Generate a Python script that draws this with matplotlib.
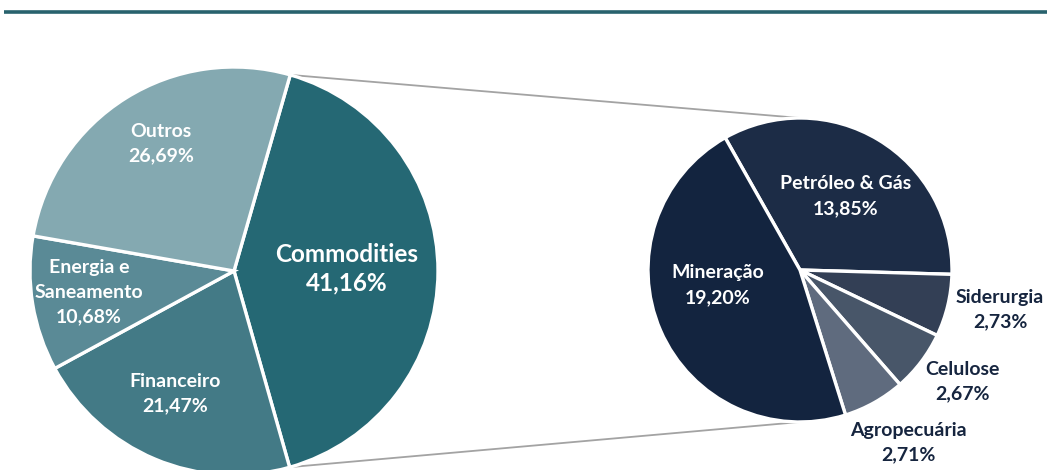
import numpy as np
import matplotlib
matplotlib.use("Agg")
from matplotlib import pyplot as plt

# main pie (clockwise from the top edge of Commodities)
setores = ["Commodities", "Financeiro", "Energia e\nSaneamento", "Outros"]
pesos = [41.16, 21.47, 10.68, 26.69]
pesos_txt = ["41,16%", "21,47%", "10,68%", "26,69%"]

# breakdown of Commodities
sub_setores = ["Petróleo & Gás", "Siderurgia", "Celulose", "Agropecuária", "Mineração"]
sub_pesos = [13.85, 2.73, 2.67, 2.71, 19.20]
sub_txt = ["13,85%", "2,73%", "2,67%", "2,71%", "19,20%"]

cores = ["#256874", "#437a86", "#5a8a96", "#84a9b1"]
sub_cores = ["#1c2c46", "#333f55", "#485669", "#5f6b7e", "#13243f"]
navy = "#16253f"

W, H = 1047, 470
fig = plt.figure(figsize=(W / 100, H / 100), dpi=100)
ax = fig.add_axes([0, 0, 1, 1])

def py(y):  # pixel row -> data y
    return H - y

c1, r1 = (234, py(271)), 204
c2, r2 = (800, py(270)), 152
a1 = 74.0
a2 = 119.5

ax.pie(pesos, colors=cores, startangle=a1, counterclock=False, center=c1,
       radius=r1, wedgeprops=dict(edgecolor="white", linewidth=2.4), frame=False)
ax.pie(sub_pesos, colors=sub_cores, startangle=a2, counterclock=False, center=c2,
       radius=r2, wedgeprops=dict(edgecolor="white", linewidth=2.4), frame=False)

# connector lines between the two pies
t = np.radians(a1)
ax.plot([c1[0] + r1 * np.cos(t), c2[0]], [c1[1] + r1 * np.sin(t), c2[1] + r2],
        color="#a3a3a3", lw=1.3, zorder=0)
ax.plot([c1[0] + r1 * np.cos(-t), c2[0]], [c1[1] + r1 * np.sin(-t), c2[1] - r2],
        color="#a3a3a3", lw=1.3, zorder=0)

# top rule
ax.plot([4, W], [py(12), py(12)], color="#28626d", lw=2.6, solid_capstyle="butt")

fam = ["Lato", "DejaVu Sans"]
lab_pos = [(347, 268.5), (175, 393.5), (89, 292), (161, 143.5)]
for nome, txt, (x, y) in zip(setores, pesos_txt, lab_pos):
    big = nome == "Commodities"
    ax.text(x, py(y), nome + "\n" + txt, ha="center", va="center", color="white",
            fontsize=17.5 if big else 14, fontweight="bold", family=fam,
            linespacing=1.3 if big else 1.55)

sub_pos = [(846, 196), (1000, 309.5), (962, 381.5), (908, 442.5), (718, 285)]
for i, (nome, txt, (x, y)) in enumerate(zip(sub_setores, sub_txt, sub_pos)):
    cor = "white" if sub_pesos[i] > 5 else navy
    ax.text(x, py(y), nome + "\n" + txt, ha="center", va="center", color=cor,
            fontsize=14, fontweight="bold", family=fam, linespacing=1.55)

ax.set_xlim(0, W)
ax.set_ylim(0, H)
ax.set_aspect("auto")
ax.set_axis_off()

fig.savefig("out.png", dpi=100)
